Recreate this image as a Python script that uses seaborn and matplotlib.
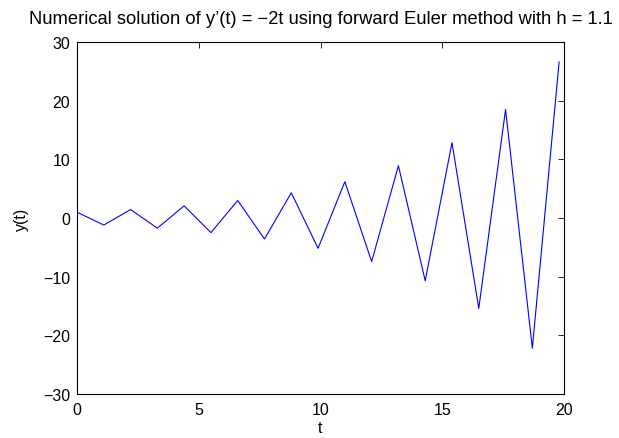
import matplotlib
matplotlib.use("Agg")
import matplotlib.pyplot as plt
import seaborn as sns
import pandas as pd

t_values = [0.0, 1.1, 2.2, 3.3, 4.4, 5.5, 6.6, 7.7, 8.8, 9.9, 11.0, 12.1, 13.2,
            14.3, 15.4, 16.5, 17.6, 18.7, 19.8]
y_values = [1.0, -1.2, 1.44, -1.728, 2.0736, -2.48832, 2.985984, -3.583181,
            4.299817, -5.15978, 6.191736, -7.430084, 8.9161, -10.699321,
            12.839185, -15.407022, 18.488426, -22.186111, 26.623333]
x_ticks = [0, 5, 10, 15, 20]
y_ticks = [-30, -20, -10, 0, 10, 20, 30]
y_tick_labels = ["\u221230", "\u221220", "\u221210", "0", "10", "20", "30"]

sns.set_theme(style="white")
plt.rcParams['font.family'] = ['Liberation Sans', 'DejaVu Sans']

df = pd.DataFrame({"t": t_values, "y": y_values})

fig = plt.figure(figsize=(6.19, 4.39), dpi=100)
ax = fig.add_axes([77 / 619, 1 - 395 / 439, (564 - 77) / 619, (395 - 43) / 439])
sns.lineplot(data=df, x="t", y="y", ax=ax, color="blue", linewidth=0.8, sort=False)

ax.set_xlim(0, 20)
ax.set_ylim(-30, 30)
ax.set_xticks(x_ticks)
ax.set_xticklabels([str(v) for v in x_ticks])
ax.set_yticks(y_ticks)
ax.set_yticklabels(y_tick_labels)
ax.tick_params(direction="in", length=4, width=0.6, top=True, right=True,
               labelsize=11.5, colors="black")
ax.tick_params(axis="x", pad=6)
ax.tick_params(axis="y", pad=5)
for s in ax.spines.values():
    s.set_visible(True)
    s.set_color("black")
    s.set_linewidth(0.8)
ax.set_xlabel("t", fontsize=11.5, labelpad=2, color="black")
ax.set_ylabel("y(t)", fontsize=11.5, labelpad=10, color="black")
ax.set_title("Numerical solution of y\u2019(t) = \u22122t using forward Euler method with h = 1.1",
             fontsize=13.2, pad=14, color="black")

fig.savefig("out.png", dpi=100)
